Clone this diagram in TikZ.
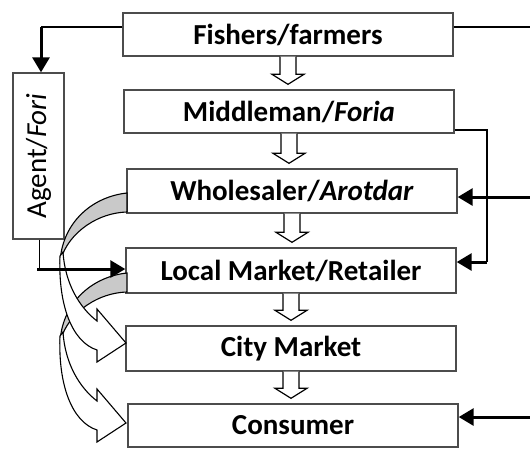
\documentclass[tikz,border=0pt]{standalone}
\usepackage{fontspec}
\setmainfont{Carlito}
\usetikzlibrary{arrows.meta,calc}
\begin{document}
\begin{tikzpicture}[x=1pt,y=-1pt,
  box/.style={draw=black!70,line width=1.4pt,fill=white,minimum width=330pt,inner sep=0pt,
    font=\fontsize{29}{34}\selectfont\bfseries},
  agentbox/.style={draw=black!70,line width=1.4pt,fill=white,minimum width=166pt,minimum height=51pt,
    inner sep=0pt,rotate=90,font=\fontsize{29}{34}\selectfont},
  thinline/.style={draw=black,line width=1.6pt},
  thickarr/.style={draw=black,line width=3pt,-{Triangle[length=15pt,width=17pt]}},
  hollow/.style={draw=black,line width=1.2pt,fill=white,line join=miter},
  band/.style={draw=black,line width=1.1pt,fill=gray!42},
  curvewhite/.style={draw=black,line width=1.1pt,fill=white,line join=miter}]
\useasboundingbox (0,0) rectangle (530,448);

% boxes
\node[box,minimum height=43pt] (fish)  at (288,34.5)  {Fishers/farmers};
\node[box,minimum height=43pt] (mid)   at (289,111.5) {Middleman/\textit{Foria}};
\node[box,minimum height=44pt] (whole) at (292,191)   {Wholesaler/\textit{Arotdar}};
\node[box,minimum height=45pt] (local) at (291,270.5) {Local Market/Retailer};
\node[box,minimum height=45pt] (city)  at (291,348.5) {City Market};
\node[box,minimum height=43pt] (cons)  at (293,425.5) {Consumer};
\node[agentbox] (agent) at (38.5,156) {Agent/\textit{Fori}};

% hollow down arrows between boxes
\newcommand\hollowdown[2]{%
  \draw[hollow] let \p1=(#1.south), \p2=(#2.north) in
    (\x1-8pt,\y1) -- (\x1-8pt,\y2+15pt) -- (\x1-16pt,\y2+15pt) -- (\x1,\y2+5pt)
    -- (\x1+16pt,\y2+15pt) -- (\x1+8pt,\y2+15pt) -- (\x1+8pt,\y1);}
\hollowdown{fish}{mid}
\hollowdown{mid}{whole}
\hollowdown{whole}{local}
\hollowdown{local}{city}
\hollowdown{city}{cons}

% curved arrows (second one first, so the first lies on top)
\newcommand\curvedarrow[1]{%
  \begin{scope}[shift={(0,#1)}]
    \path[band] (127,193) .. controls (90,197) and (61,225) .. (60,264)
      .. controls (64,238) and (93,213) .. (127,212) -- cycle;
    \path[curvewhite] (60,256) .. controls (58,305) and (72,342) .. (97,350)
      -- (97,362) -- (126,343) -- (97,309) -- (97,321)
      .. controls (80,308) and (65,284) .. (63,252) -- cycle;
  \end{scope}}
\curvedarrow{80}
\curvedarrow{0}

% connectors
\coordinate (fc) at (41,27);
\coordinate (fr) at (530,27);
\draw[thinline] ([yshift=7.5pt]fish.west) -- (fc);
\draw[thickarr] (fc) -- ([xshift=2.5pt]agent.east);
\draw[thinline] ([yshift=7.5pt]fish.east) -- (fr);

\coordinate (mc) at (487,130);
\coordinate (md) at (487,262);
\draw[thinline] ([yshift=-18.5pt]mid.east) -- (mc) -- (md);
\draw[thickarr] (md) -- ([yshift=8.5pt]local.east);

\coordinate (wr) at (530,197);
\draw[thickarr] (wr) -- ([yshift=-6pt]whole.east);

\coordinate (cr) at (530,417);
\draw[thickarr] (cr) -- ([yshift=8.5pt]cons.east);

\coordinate (ad) at (39.5,269);
\coordinate (al) at (37,269);
\draw[thinline] ([xshift=1pt]agent.west) -- (ad);
\draw[thickarr] (al) -- ([yshift=1.5pt]local.west);
\end{tikzpicture}
\end{document}
